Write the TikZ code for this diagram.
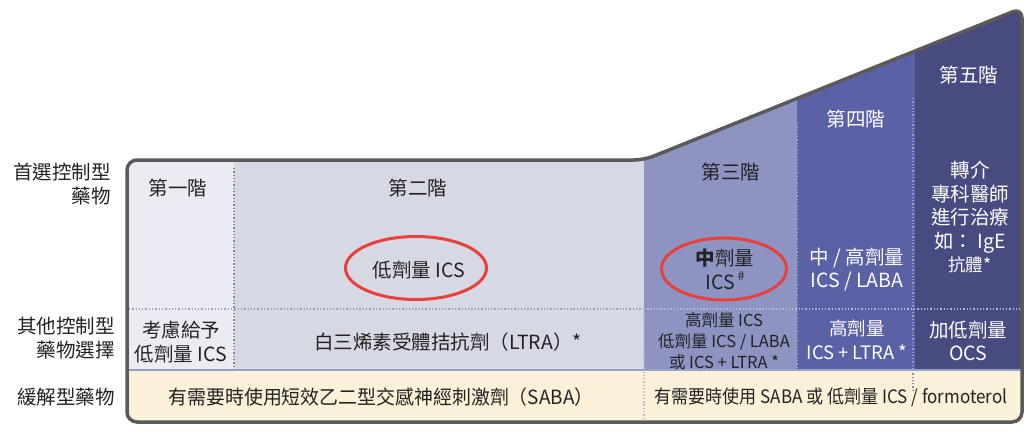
\documentclass[tikz,border=0pt]{standalone}
\usepackage{fontspec}
\setmainfont{Noto Sans CJK TC}
\newfontfamily\latinfont{Liberation Sans}
\usetikzlibrary{shapes.geometric}
\definecolor{colA}{HTML}{EBECF3}
\definecolor{colB}{HTML}{D6D8E4}
\definecolor{colC}{HTML}{8D94C2}
\definecolor{colD}{HTML}{5A61A4}
\definecolor{colE}{HTML}{474B80}
\definecolor{cream}{HTML}{FBF1D9}
\definecolor{frame}{HTML}{5A5A5A}
\definecolor{ring}{HTML}{E8403A}
\definecolor{ink}{HTML}{222222}
\definecolor{dotA}{HTML}{7F86AE}
\definecolor{dotB}{HTML}{B4B9DA}
\definecolor{sepline}{HTML}{9AA0C8}
\begin{document}
\begin{tikzpicture}[x=1bp,y=-1bp,
  txt/.style={inner sep=0pt,align=center,text=ink,font=\fontsize{19.5bp}{23.5bp}\selectfont},
  wtxt/.style={txt,text=white},
  lab/.style={txt,align=right,anchor=east},
  ring/.style={draw=ring,line width=3bp,ellipse,inner sep=0pt},
  dotsep/.style={dotted,line width=1.3bp}]
\useasboundingbox (0,0) rectangle (1035,432);
\def\outline{(127,300) -- (127,160) -- (644,160) -- (1022,8) -- (1022,422) -- (127,422) -- cycle}
\begin{scope}
\clip[rounded corners=10bp] \outline;
\fill[colA] (120,0) rectangle (234,370);
\fill[colB] (234,0) rectangle (644,370);
\fill[colC] (644,0) rectangle (797,370);
\fill[colD] (797,0) rectangle (915,370);
\fill[colE] (915,0) rectangle (1030,370);
\fill[cream] (120,370) rectangle (1030,430);
\end{scope}
% separators
\draw[dotsep,draw=dotA] (234,168) -- (234,370);
\draw[dotsep,draw=dotA!80] (129,309) -- (644,309);
\draw[dotsep,draw=dotB] (644,309) -- (1020,309);
\draw[dotsep,draw=dotB] (644,309) -- (644,420);
\draw[dotsep,draw=dotB!70!colD] (797,123) -- (797,370);
\draw[dotsep,draw=dotB!70!colD] (913,98) -- (913,370);
\draw[dotsep,draw=dotA] (913,370) -- (913,392);
\draw[sepline,line width=1.6bp] (127,370) -- (1022,370);
% outer frame
\draw[frame,line width=3.5bp,rounded corners=10bp] \outline;
% left labels
\node[lab] (l1) at (111,184) {首選控制型\\藥物};
\node[lab] (l2) at (115,338) {其他控制型\\藥物選擇};
\node[lab] (l3) at (115,397) {緩解型藥物};
% step 1
\node[txt] (s1) at (178,188) {第一階};
\node[txt] (r1) at (181,342) {考慮給予\\低劑量 ICS};
% step 2
\node[txt] (s2) at (418,188) {第二階};
\node[ring,minimum width=141bp,minimum height=63bp] (e2) at (416,268) {};
\node[txt] (m2) at (419,270) {低劑量 ICS};
\node[txt] (r2) at (448,342) {白三烯素受體拮抗劑（LTRA）*};
\node[txt] (b1) at (381,397) {\scalebox{0.97}[1]{有需要時使用短效乙二型交感神經刺激劑（SABA）}};
% step 3
\node[txt] (s3) at (731,172) {第三階};
\node[ring,minimum width=125bp,minimum height=62bp] (e3) at (724,269) {};
\node[txt] (m3) at (725,269.5) {\textbf{中}劑量\\ICS\,\raisebox{0.45em}{\fontsize{12bp}{12bp}\selectfont\#}};
\node[txt,font=\fontsize{16.5bp}{21bp}\selectfont] (r3) at (724,341) {高劑量 ICS\\低劑量 ICS / LABA\\或 ICS + LTRA *};
% step 4
\node[wtxt] (s4) at (856,119) {第四階};
\node[wtxt] (m4) at (857,269.5) {中 / 高劑量\\ICS / LABA};
\node[wtxt,font=\fontsize{18.5bp}{23.5bp}\selectfont] (r4) at (857,340) {高劑量\\ICS + LTRA *};
% step 5
\node[wtxt] (s5) at (969,75) {第五階};
\node[wtxt] (m5) at (970,217) {轉介\\專科醫師\\進行治療\\如： IgE\\{\fontsize{17.5bp}{20bp}\selectfont 抗體*}};
\node[wtxt] (r5) at (968,341) {加低劑量\\OCS};
\node[txt,font=\fontsize{18.5bp}{22bp}\selectfont] (b2) at (831,397) {\scalebox{0.92}[1]{有需要時使用 SABA 或 低劑量 ICS / formoterol}};
\end{tikzpicture}
\end{document}
